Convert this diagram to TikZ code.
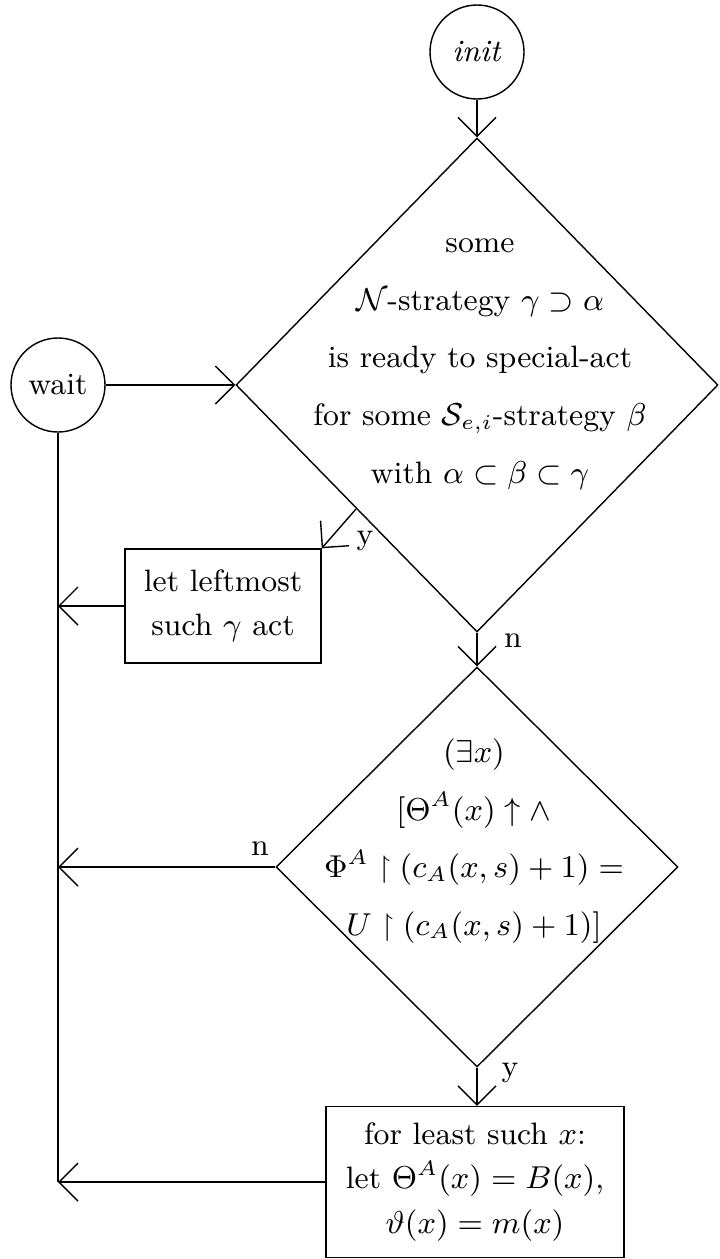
\documentclass[tikz,border=0pt]{standalone}
\usepackage{amsmath, amssymb}
\usepackage{tikz}
\usetikzlibrary{arrows.meta, shapes.geometric}

\begin{document}
\begin{tikzpicture}[x=1mm, y=-1mm, font=\fontsize{8.8}{11}\selectfont,
  termn/.style={circle, draw, minimum size=9.4mm, inner sep=0pt},
  testn/.style={diamond, draw, inner sep=0pt},
  actn/.style={rectangle, draw, inner sep=0pt, align=center, font=\fontsize{8.8}{12.6}\selectfont},
  txtn/.style={align=center, inner sep=0pt, font=\fontsize{8.8}{16.4}\selectfont},
  flowedge/.style={draw, -{Straight Barb[length=1.9mm, width=3.8mm]}},
  railedge/.style={draw},
  ansn/.style={inner sep=0pt}
]
  \useasboundingbox (0,0) rectangle (72,125.9);
  \node[termn] (init) at (47.7,5.2)  {\textit{init}};
  \node[termn] (wait) at (5.8,38.5)  {wait};
  \node[testn, minimum width=48.2mm, minimum height=49.4mm] (d1) at (47.7,38.5) {};
  \node[txtn]  (q1txt) at (48.0,36.4) {some\\
    $\mathcal{N}$-strategy $\gamma\supset\alpha$\\
    is ready to special-act\\
    for some $\mathcal{S}_{e,i}$-strategy $\beta$\\
    with $\alpha\subset\beta\subset\gamma$};
  \node[actn, minimum width=19.6mm, minimum height=11.4mm] (box1) at (22.3,60.6)
    {let leftmost\\ such $\gamma$ act};
  \node[testn, minimum width=40.2mm, minimum height=40.0mm] (d2) at (47.7,86.7) {};
  \node[txtn]  (q2txt) at (47.4,84.1) {$(\exists x)$\\
    $[\Theta^A(x)\uparrow\wedge$\\
    $\Phi^A\upharpoonright(c_A(x,s)+1)=$\\
    $U\upharpoonright(c_A(x,s)+1)]$};
  \node[actn, minimum width=29.8mm, minimum height=15.1mm] (box2) at (47.5,118.2)
    {for least such $x$:\\ let $\Theta^A(x)=B(x)$,\\ $\vartheta(x)=m(x)$};
  \node[ansn] (y1) at (36.5,54.1)  {y};
  \node[ansn] (n1) at (51.3,64.1)  {n};
  \node[ansn] (n2) at (26.0,84.9)  {n};
  \node[ansn] (y2) at (51.0,107.3) {y};
  \draw[flowedge] (init.south) -- (d1.north);
  \draw[flowedge] (wait.east) -- (d1.west);
  \draw[flowedge] (d1.south west) -- (box1.north east);
  \draw[flowedge] (d1.south) -- (d2.north);
  \draw[flowedge] (d2.south) -- (d2.south |- box2.north);
  \draw[railedge] (wait.south) -- (wait.south |- box2.west);
  \draw[flowedge] (box1.west) -- (wait.south |- box1.west);
  \draw[flowedge] (d2.west) -- (wait.south |- d2.west);
  \draw[flowedge] (box2.west) -- (wait.south |- box2.west);
\end{tikzpicture}
\end{document}
